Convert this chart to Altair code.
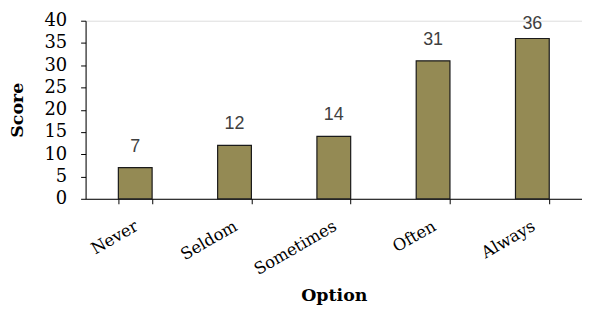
import altair as alt
import pandas as pd

options = ["Never", "Seldom", "Sometimes", "Often", "Always"]
scores = [7, 12, 14, 31, 36]
y_ticks = [0, 5, 10, 15, 20, 25, 30, 35, 40]

df = pd.DataFrame({"Option": options, "Score": scores})

serif = "DejaVu Serif"

x_enc = alt.X(
    "Option:N",
    sort=options,
    scale=alt.Scale(paddingInner=0.66, paddingOuter=0.33),
    axis=alt.Axis(
        title="Option",
        titleFont=serif,
        titleFontSize=17.5,
        titleFontWeight="bold",
        titleColor="#000000",
        titleY=102,
        titleBaseline="alphabetic",
        labelFont=serif,
        labelFontSize=16.5,
        labelColor="#000000",
        labelAngle=-30,
        labelAlign="right",
        labelBaseline="top",
        labelPadding=14,
        labelOffset=-3,
        tickBand="extent",
        tickSize=5,
        tickColor="#000000",
        domainColor="#000000",
        grid=False,
    ),
)

y_enc = alt.Y(
    "Score:Q",
    scale=alt.Scale(domain=[0, 40]),
    axis=alt.Axis(
        title="Score",
        titleFont=serif,
        titleFontSize=17.5,
        titleFontWeight="bold",
        titleColor="#000000",
        titleX=-63,
        titleBaseline="alphabetic",
        labelFont=serif,
        labelFontSize=18,
        labelColor="#000000",
        labelPadding=14,
        labelOverlap=False,
        labelFlush=False,
        values=y_ticks,
        tickSize=5,
        tickColor="#000000",
        domainColor="#000000",
        grid=False,
    ),
)

bars = alt.Chart(df).mark_bar(
    color="#948A54", stroke="#1a1a1a", strokeWidth=1.2
).encode(x=x_enc, y=y_enc)

labels = (
    alt.Chart(df)
    .transform_calculate(labelY="min(datum.Score + 3.6, 38.2)")
    .mark_text(font="Liberation Sans", fontSize=18, color="#404040", baseline="alphabetic")
    .encode(
        x=alt.X("Option:N", sort=options),
        y=alt.Y("labelY:Q", axis=None),
        text="Score:Q",
    )
)

chart = (
    alt.layer(bars, labels)
    .resolve_axis(y="independent")
    .properties(
        width=499,
        height=179,
        autosize=alt.AutoSizeParams(type="none"),
        padding={"left": 78, "top": 12, "right": 0, "bottom": 108},
    )
    .configure_view(stroke=None)
    .configure(background="white")
)

chart.save("out.html", embed_options={"renderer": "svg", "actions": False})
